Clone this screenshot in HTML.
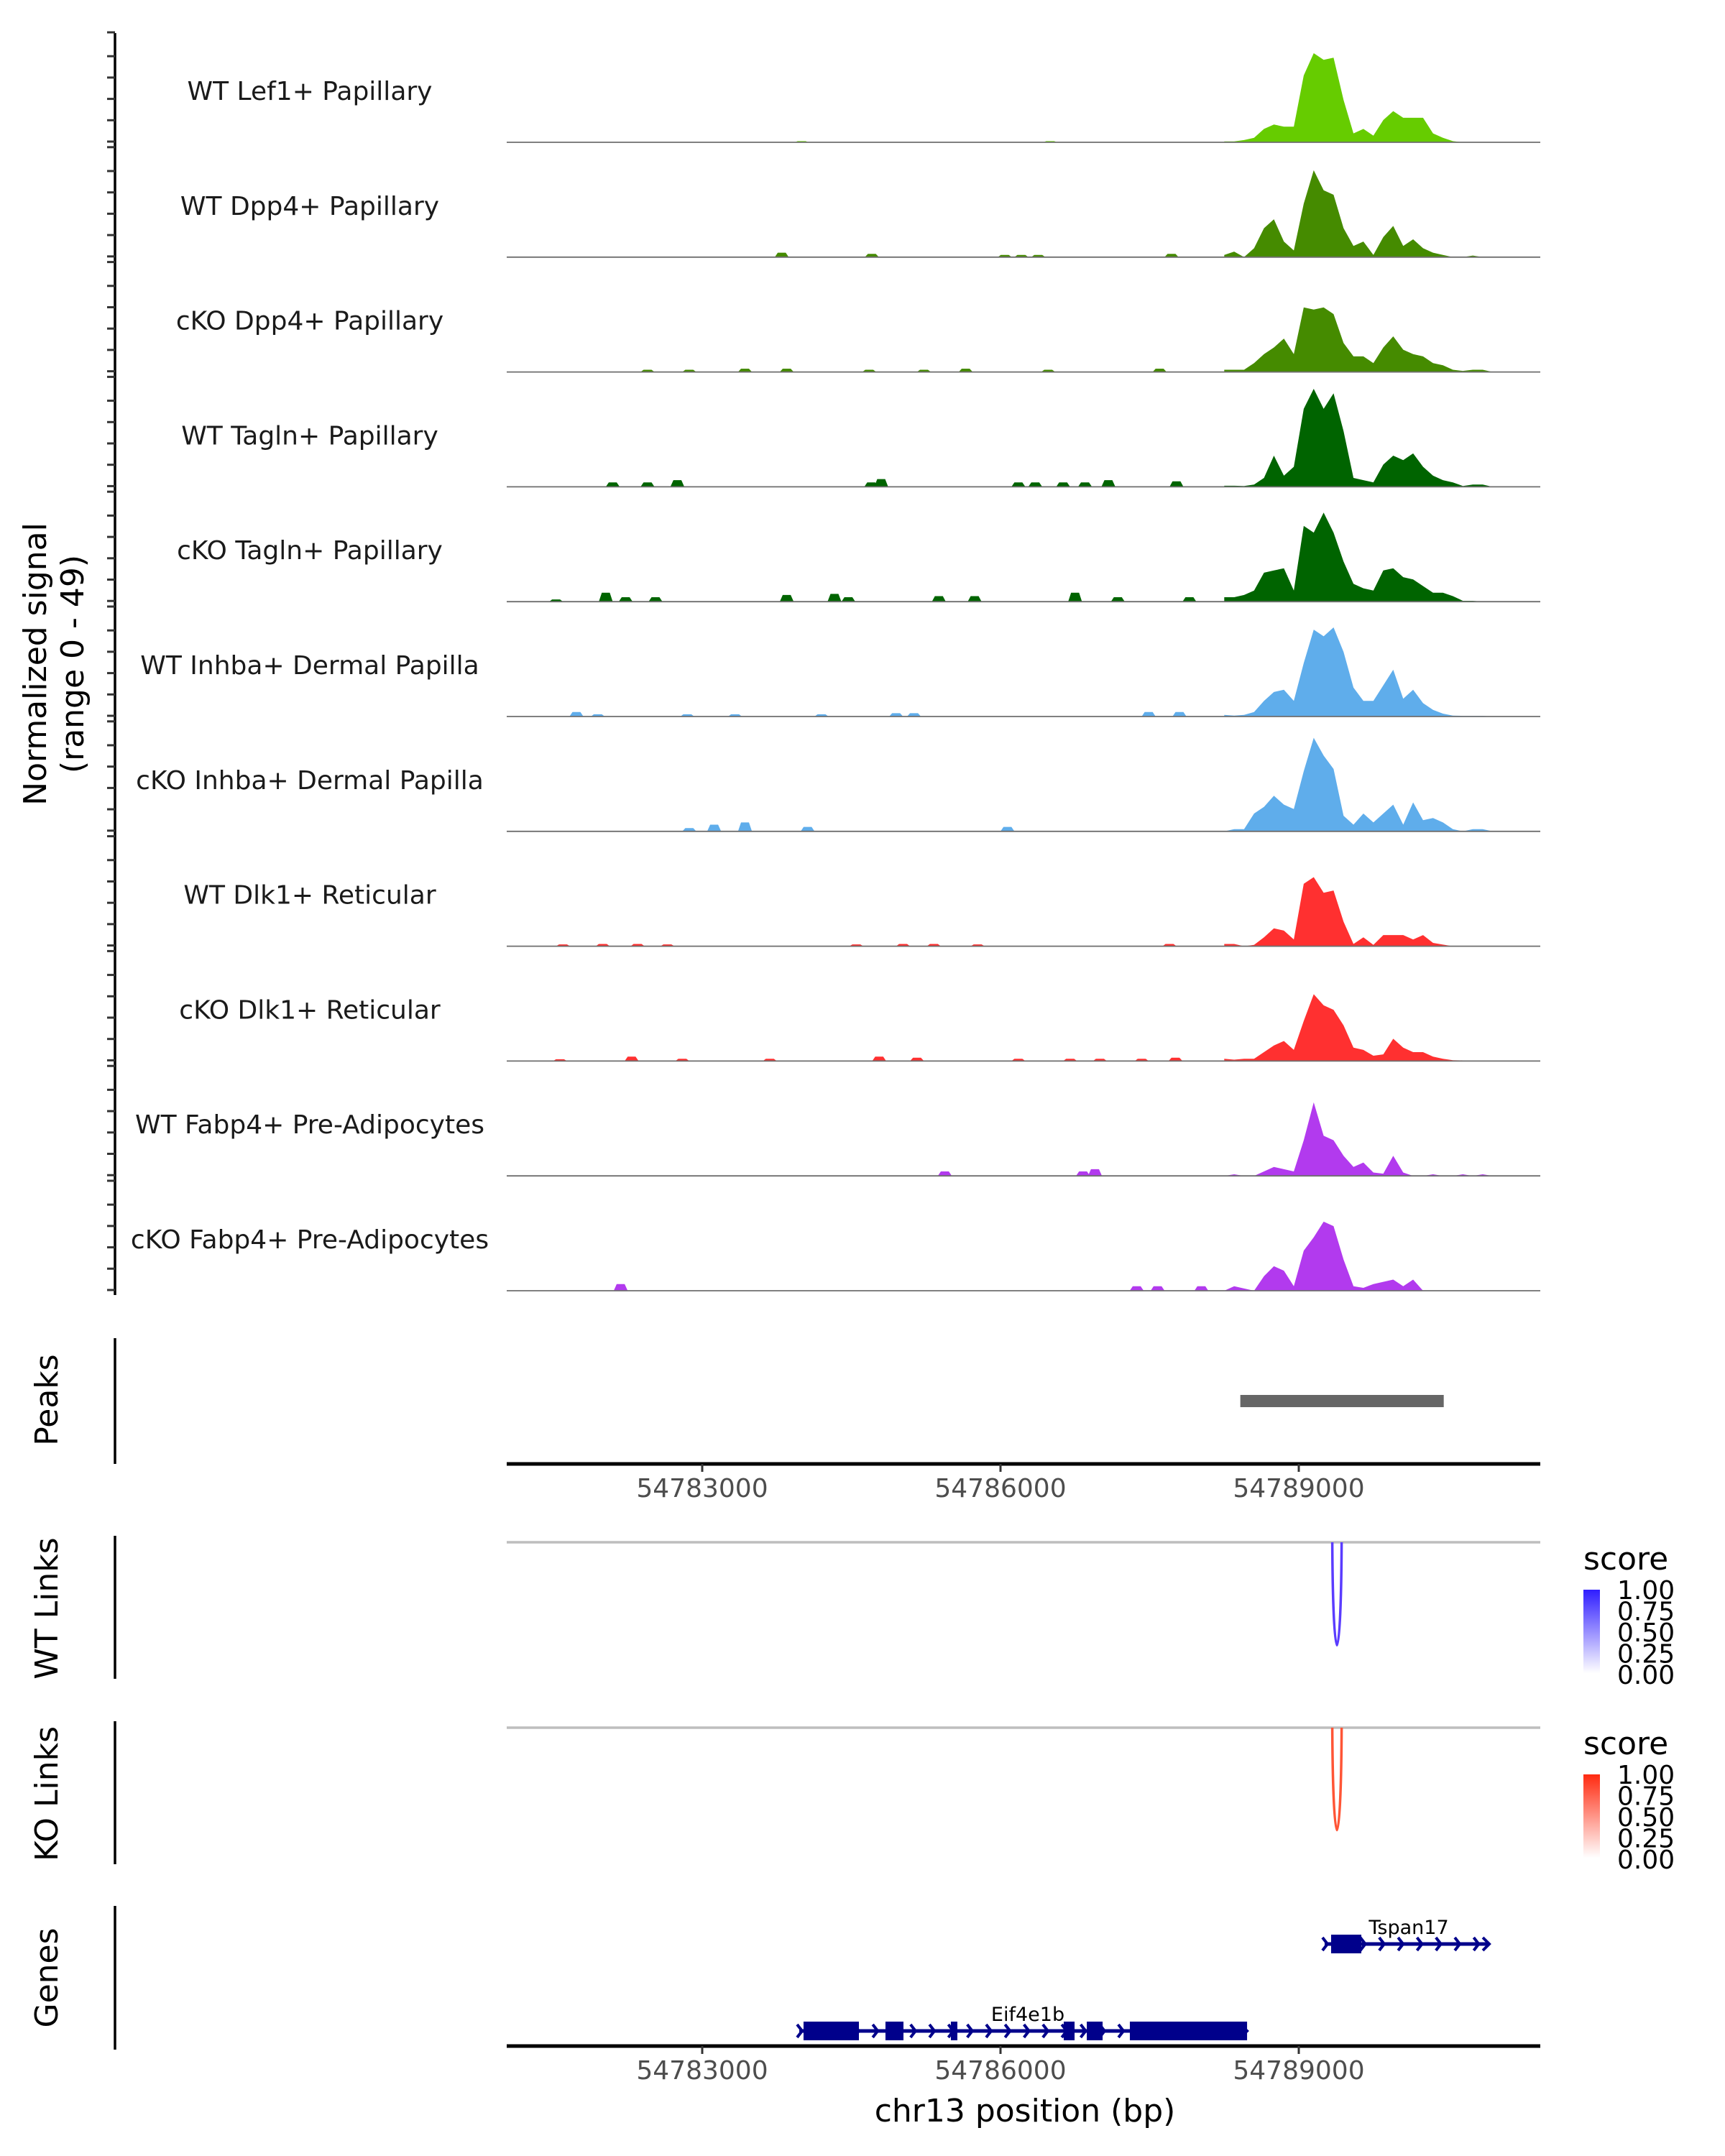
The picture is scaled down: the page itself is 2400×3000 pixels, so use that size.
<!DOCTYPE html>
<html><head><meta charset="utf-8">
<style>
html,body{margin:0;padding:0;background:#fff;}
svg{display:block;font-family:"DejaVu Sans","Liberation Sans",sans-serif;}
</style></head>
<body>
<svg id="chart" width="2400" height="3000" viewBox="0 0 2400 3000" xmlns="http://www.w3.org/2000/svg"></svg>
<script>
// ---- data ----
const trackNames = ["WT Lef1+ Papillary","WT Dpp4+ Papillary","cKO Dpp4+ Papillary","WT Tagln+ Papillary","cKO Tagln+ Papillary","WT Inhba+ Dermal Papilla","cKO Inhba+ Dermal Papilla","WT Dlk1+ Reticular","cKO Dlk1+ Reticular","WT Fabp4+ Pre-Adipocytes","cKO Fabp4+ Pre-Adipocytes"];
const trackColors = ["#66cc00","#458b00","#458b00","#006400","#006400","#5fadeb","#5fadeb","#ff3030","#ff3030","#b23aee","#b23aee"];
const profileStartBp = 54788250;
const profileStepBp = 100;
const sigT0 = [0.4,0.4,1,2,6,8,7,7,30,40,37,38,19,4,6,3,10,14,11,11,11,4,2,0.5,0,0,0,0];
const sigT1 = [1,2.5,0,4,13,17,7,3,24,39,30,28,13,5,7,1,9,14,5,8,4,2,1,0,0,0.7,0,0];
const sigT2 = [1,1,1,4,8,11,15,8,29,28,29,26,13,7,7,4,11,16,10,8,7,4,3,1,0.5,1,1,0];
const sigT3 = [0.5,0.5,0.4,1,4,14,5,9,35,44,35,42,25,4,3,2,10,14,12,15,9,5,3,2,0.4,1,1,0];
const sigT4 = [2,2,3,5,13,14,15,5,34,31,40,31,18,8,6,5,14,15,11,10,7,4,4,2.5,0.4,0.4,0,0];
const sigT5 = [0.7,0.4,0.7,2,7,11,12,7,24,39,36,40,29,13,7,7,14,21,8,12,6,3,1.3,0.4,0.3,0.3,0.3,0];
const sigT6 = [0,1,1,8,11,16,12,10,27,42,34,28,7,3,8,4,8,12,3,13,5,6,4,1,0,1,1,0];
const sigT7 = [1,1,0,0.6,4,8,7,3,28,31,24,25,11,1,4,0.6,5,5,5,3,5,1.5,0.7,0,0,0,0,0];
const sigT8 = [1,0.6,1,1,4,7,9,5,18,30,25,23,16,6,5,2.4,3,10,6,4,4,2,1,0.4,0.3,0.3,0.3,0];
const sigT9 = [0,0.7,0,0,2,4,3,2,16,33,18,16,9,4,6,1.5,1,9,1.5,0,0,0.7,0,0,0.7,0,0.7,0];
const sigT10 = [0,2,1,0,6.5,11,9,2,18,24,31,29,14,2,1.3,3,4,5,2,5,0,0,0,0,0,0,0,0];
const signals = [sigT0,sigT1,sigT2,sigT3,sigT4,sigT5,sigT6,sigT7,sigT8,sigT9,sigT10];
const blipsT0 = [[54784000,0.5],[54786500,0.5]];
const blipsT1 = [[54783800,2],[54784706,1.5],[54786043,1],[54786210,1],[54786380,1],[54787720,1.5]];
const blipsT2 = [[54782450,1],[54782870,1],[54783430,1.5],[54783850,1.5],[54784680,1],[54785230,1],[54785650,1.5],[54786480,1],[54787600,1.5]];
const blipsT3 = [[54782100,2],[54782450,2],[54782750,3],[54784700,2],[54784800,3.5],[54786180,2],[54786350,2],[54786630,2],[54786850,2],[54787085,3],[54787770,2.5]];
const blipsT4 = [[54781530,1],[54782030,4],[54782230,2],[54782530,2],[54783850,3],[54784330,3.5],[54784470,2],[54785380,2.5],[54785740,2.5],[54786750,4],[54787180,2],[54787900,2]];
const blipsT5 = [[54781735,2],[54781950,1],[54782850,1],[54783330,1],[54784200,1],[54784950,1.5],[54785130,1.5],[54787490,2],[54787800,2]];
const blipsT6 = [[54782870,1.5],[54783120,3],[54783430,4],[54784060,2],[54786070,2]];
const blipsT7 = [[54781600,0.8],[54782000,1],[54782350,1],[54782650,0.8],[54784550,0.8],[54785020,1],[54785330,1],[54785770,0.8],[54787700,1]];
const blipsT8 = [[54781570,0.8],[54782290,2],[54782800,1],[54783680,1],[54784780,2],[54785160,1.5],[54786180,1],[54786700,1],[54787000,1],[54787420,1],[54787760,1.5]];
const blipsT9 = [[54785440,2],[54786830,2],[54786950,3]];
const blipsT10 = [[54782180,3],[54787370,2],[54787580,2],[54788020,2]];
const blips = [blipsT0,blipsT1,blipsT2,blipsT3,blipsT4,blipsT5,blipsT6,blipsT7,blipsT8,blipsT9,blipsT10];
const xTicks = [54783000,54786000,54789000];
const xTickLabels = ["54783000","54786000","54789000"];
const peakRegion = [54788412,54790458];
const wtLink = [54789337,54789431];
const koLink = [54789337,54789431];
const eifSpan = [54783976,54788480];
const eifExons = [[54784019,54784576],[54784843,54785024],[54785501,54785566],[54786636,54786745],[54786868,54787027],[54787301,54788480]];
const tspSpan = [54789260,54790916];
const tspExons = [[54789325,54789629]];
const legendLabels = ["1.00","0.75","0.50","0.25","0.00"];

// ---- scales ----
const PL=705, PR=2143;
function xS(bp){ return 977 + (bp-54783000)/3000*415; }
const trackBase0=198, trackStep=159.8, unitPx=3.1;
function base(i){ return trackBase0 + i*trackStep; }
function yS(i,v){ return base(i) - v*unitPx; }

const svg=document.getElementById('chart');
const NS="http://www.w3.org/2000/svg";
function mk(tag,attrs,parent){ const e=document.createElementNS(NS,tag); for(const k in attrs) e.setAttribute(k,attrs[k]); (parent||svg).appendChild(e); return e; }

// y-axis
const yAxis=mk('line',{x1:160,y1:46,x2:160,y2:1802,stroke:'#000','stroke-width':3.5});


for(let i=0;i<trackNames.length;i++){
  const b=base(i);
  const ys=[b-153];
  for(let k=0;k<5;k++) ys.push(b-1-k*29.7);
  ys.forEach(y=>{
    const t=mk('line',{x1:149,y1:y,x2:160,y2:y,stroke:'#333','stroke-width':3});
    
    
  });
}
const yt=mk('text',{x:0,y:0,'font-size':44,fill:'#000','text-anchor':'middle',transform:'translate(64,924) rotate(-90)'});
yt.textContent='Normalized signal';


const yt2=mk('text',{x:0,y:0,'font-size':44,fill:'#000','text-anchor':'middle',transform:'translate(116,924) rotate(-90)'});
yt2.textContent='(range 0 - 49)';



// tracks
for(let i=0;i<trackNames.length;i++){
  const g=mk('g',{});
  
  
  const b=base(i);
  const lab=mk('text',{x:431,y:b-72+13,'font-size':36,fill:'#1a1a1a','text-anchor':'middle'},g);
  lab.textContent=trackNames[i];
  
  
  blips[i].forEach(([bp,h])=>{
    const pts=[[bp-70,0],[bp-40,h],[bp+40,h],[bp+70,0]].map(p=>xS(p[0]).toFixed(1)+','+yS(i,p[1]).toFixed(1)).join(' ');
    const bl=mk('polygon',{points:pts,fill:trackColors[i]},g);
    
    
  });
  const sig=signals[i];
  let d='M'+xS(profileStartBp).toFixed(1)+','+b;
  sig.forEach((v,k)=>{ d+=' L'+xS(profileStartBp+k*profileStepBp).toFixed(1)+','+yS(i,v).toFixed(1); });
  d+=' L'+xS(profileStartBp+(sig.length-1)*profileStepBp).toFixed(1)+','+b+' Z';
  const ar=mk('path',{d:d,fill:trackColors[i]},g);
  
  
  const bl=mk('line',{x1:PL,y1:b,x2:PR,y2:b,stroke:'#6e6e6e','stroke-width':1.8},g);
  
  
}

// side labels
function sideLabel(txt,cy,name,y1,y2){
  const l=mk('line',{x1:160,y1:y1,x2:160,y2:y2,stroke:'#000','stroke-width':3.5});
  
  
  const t=mk('text',{x:0,y:0,'font-size':44,fill:'#000','text-anchor':'middle',transform:'translate(80,'+cy+') rotate(-90)'});
  t.textContent=txt;
  
  
}
sideLabel('Peaks',1948,'peaks',1862,2037);
sideLabel('WT Links',2238,'wt-links',2137,2336);
sideLabel('KO Links',2496,'ko-links',2395,2594);
sideLabel('Genes',2752,'genes',2652,2852);

// peaks
const pk=mk('rect',{x:xS(peakRegion[0]),y:1941,width:xS(peakRegion[1])-xS(peakRegion[0]),height:17,fill:'#666'});



// x axes
function xAxis(y,name){
  const l=mk('line',{x1:PL,y1:y,x2:PR,y2:y,stroke:'#000','stroke-width':5});
  
  
  xTicks.forEach((bp,j)=>{
    const t=mk('line',{x1:xS(bp),y1:y,x2:xS(bp),y2:y+11,stroke:'#333','stroke-width':3});
    
    
    const tl=mk('text',{x:xS(bp),y:y+46,'font-size':36,fill:'#4d4d4d','text-anchor':'middle'});
    tl.textContent=xTickLabels[j];
    
    
  });
}
xAxis(2037,'peaks-x-axis');
xAxis(2847,'genes-x-axis');
const xt=mk('text',{x:1426,y:2952,'font-size':44,fill:'#000','text-anchor':'middle'});
xt.textContent='chr13 position (bp)';



// links
function links(top,bottom,span,color,name,gradTop,gradId,legY){
  const gl=mk('line',{x1:PL,y1:top,x2:PR,y2:top,stroke:'#bebebe','stroke-width':3.5});
  
  
  const x1=xS(span[0]), x2=xS(span[1]);
  const a=mk('path',{d:`M${x1},${top} C${x1+1},${bottom+8} ${x2-1},${bottom+8} ${x2},${top}`,fill:'none',stroke:color,'stroke-width':3.5});
  
  
  const defs=mk('defs',{});
  const lg=mk('linearGradient',{id:gradId,x1:0,y1:0,x2:0,y2:1},defs);
  mk('stop',{offset:'0','stop-color':gradTop},lg);
  mk('stop',{offset:'1','stop-color':'#ffffff'},lg);
  const st=mk('text',{x:2203,y:legY-43+15,'font-size':44,fill:'#000'});
  st.textContent='score';
  
  
  const bar=mk('rect',{x:2203,y:legY,width:23,height:116,fill:'url(#'+gradId+')'});
  
  
  legendLabels.forEach((s,j)=>{
    const t=mk('text',{x:2250,y:legY+j*29.5+13,'font-size':36,fill:'#000'});
    t.textContent=s;
    
    
  });
}
links(2146,2329,wtLink,'#5a3cff','wt-links','#2f1dff','gradWT',2212);
links(2404,2586,koLink,'#ff5536','ko-links','#ff2a10','gradKO',2469);

// genes
function gene(span,exons,yc,label,lx,name){
  const g=mk('g',{});
  
  
  const c='#00008b';
  mk('line',{x1:xS(span[0]),y1:yc,x2:xS(span[1]),y2:yc,stroke:c,'stroke-width':5},g);
  const xa=xS(span[0]), xb=xS(span[1]);
  for(let x=xa+4;x<=xb;x+=26.3){
    mk('polyline',{points:`${x-7},${yc-9} ${x},${yc} ${x-7},${yc+9}`,fill:'none',stroke:c,'stroke-width':4},g);
  }
  mk('polyline',{points:`${xb-9},${yc-9} ${xb},${yc} ${xb-9},${yc+9}`,fill:'none',stroke:c,'stroke-width':4},g);
  exons.forEach(e=>{
    const r=mk('rect',{x:xS(e[0]),y:yc-13,width:xS(e[1])-xS(e[0]),height:26,fill:c},g);
    
    
  });
  const t=mk('text',{x:lx,y:yc-14,'font-size':27,fill:'#000','text-anchor':'middle'},g);
  t.textContent=label;
  
  
}
gene(eifSpan,eifExons,2826,'Eif4e1b',1430,'gene-eif4e1b');
gene(tspSpan,tspExons,2705,'Tspan17',1960,'gene-tspan17');
</script>
</body></html>
